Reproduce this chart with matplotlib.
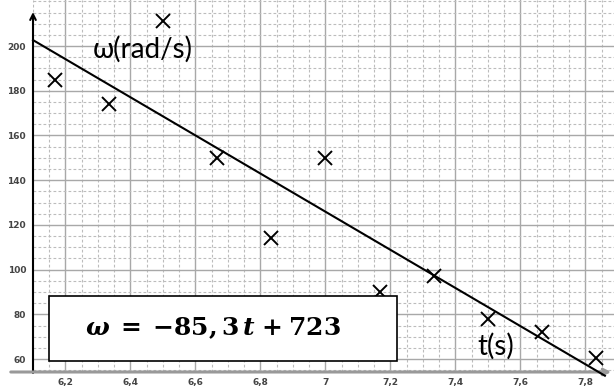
import numpy as np
import matplotlib
matplotlib.use('Agg')
import matplotlib.pyplot as plt
from matplotlib.patches import Rectangle
from matplotlib.ticker import MultipleLocator, FuncFormatter

plt.rcParams['mathtext.fontset'] = 'dejavuserif'

# mesures : temps (s) et vitesse angulaire (rad/s)
t = [6.167, 6.333, 6.5, 6.667, 6.833, 7.0, 7.167, 7.333, 7.5, 7.667, 7.833]
w = [185, 174, 211, 150, 114, 150, 90, 97, 78, 72, 60.5]

# droite de regression
slope = -85.3
intercept = 723
t_fit = [6.1, 7.86]

fig = plt.figure(figsize=(6.14, 3.87), dpi=100)
ax = fig.add_axes([33/614, 15/387, 581/614, 372/387])
ax.set_xlim(6.1, 7.888)
ax.set_ylim(54.2, 220.6)

# grille
ax.xaxis.set_major_locator(MultipleLocator(0.2))
ax.xaxis.set_minor_locator(MultipleLocator(0.05))
ax.yaxis.set_major_locator(MultipleLocator(20))
ax.yaxis.set_minor_locator(MultipleLocator(5))
ax.grid(which='major', color='#a8a8a8', lw=1.0, ls='-')
ax.grid(which='minor', color='#bcbcbc', lw=0.8, ls=(0, (2.5, 2)))
ax.set_axisbelow(True)

ax.xaxis.set_major_formatter(FuncFormatter(lambda v, p: ('%g' % round(v, 1)).replace('.', ',')))
ax.set_yticks(np.arange(60, 201, 20))
ax.tick_params(which='both', length=0)
ax.tick_params(axis='y', pad=5, labelsize=6.5, labelcolor='#444444')
ax.tick_params(axis='x', pad=4, labelsize=6.5, labelcolor='#444444')
for lab in ax.get_xticklabels() + ax.get_yticklabels():
    lab.set_fontweight('bold')

for s in ax.spines.values():
    s.set_visible(False)

# axes avec fleches
ax.annotate('', xy=(0, 0.975), xytext=(0, -0.01), xycoords='axes fraction',
            arrowprops=dict(arrowstyle='->', lw=1.5, color='black'))
ax.annotate('', xy=(1.0, 0.0), xytext=(-0.043, 0.0), xycoords='axes fraction',
            arrowprops=dict(arrowstyle='->', lw=2.2, color='#999999'))

# points et droite
ax.plot(t, w, ls='none', marker='x', ms=9.5, mew=1.4, color='black', zorder=3)
ax.plot(t_fit, [slope * v + intercept for v in t_fit], color='black', lw=1.5,
        clip_on=False, zorder=3)

fig.text(143/614, 1 - 49/387, 'ω(rad/s)', fontsize=20, family='Lato',
         ha='center', va='center')
fig.text(496/614, 1 - 346/387, 't(s)', fontsize=20, family='Lato',
         ha='center', va='center')

box = Rectangle((49/614, 26/387), 348/614, 65/387, transform=fig.transFigure,
                facecolor='white', edgecolor='black', lw=1.2, zorder=5)
fig.add_artist(box)
fig.text(213/614, 1 - 328/387,
         r'$\mathbfit{\omega}\;\mathbf{=}\;\mathbf{-85,3}\,\mathbfit{t}\;\mathbf{+}\;\mathbf{723}$',
         fontsize=18, ha='center', va='center', zorder=6)

fig.savefig('out.png', dpi=100)
